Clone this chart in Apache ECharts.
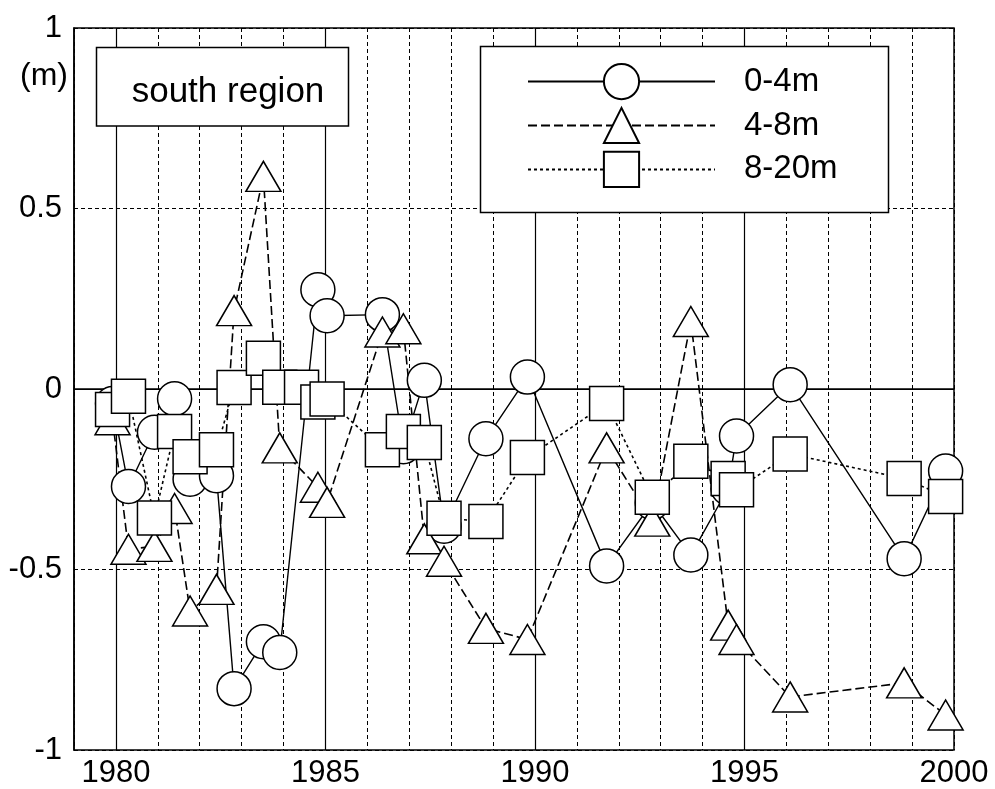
<!DOCTYPE html>
<html><head><meta charset="utf-8">
<script src="https://cdn.jsdelivr.net/npm/echarts@6/dist/echarts.min.js"></script>
<style>html,body{margin:0;padding:0;background:#fff}#c{width:995px;height:789px}</style>
</head><body><div id="c"></div>
<script>
// survey dates (decimal years) shared by all depth ranges
const dates = [1979.92,1980.30,1980.92,1981.40,1981.77,1982.40,1982.82,1983.52,1983.91,1984.82,1985.04,1986.36,1986.86,1987.36,1987.83,1988.83,1989.82,1991.71,1992.80,1993.72,1994.61,1994.81,1996.09,1998.81,1999.80];
// the 8-20m range has one extra survey (1984.43)
const dates8_20 = [1979.92,1980.30,1980.92,1981.40,1981.77,1982.40,1982.82,1983.52,1983.91,1984.43,1984.82,1985.04,1986.36,1986.86,1987.36,1987.83,1988.83,1989.82,1991.71,1992.80,1993.72,1994.61,1994.81,1996.09,1998.81,1999.80];
const depth0_4 = [-0.04,-0.27,-0.12,-0.027,-0.25,-0.24,-0.83,-0.70,-0.73,0.275,0.203,0.206,-0.16,0.024,-0.38,-0.138,0.033,-0.49,-0.315,-0.46,-0.275,-0.13,0.012,-0.47,-0.227];
const depth4_8 = [-0.085,-0.444,-0.436,-0.331,-0.615,-0.555,0.217,0.589,-0.163,-0.272,-0.314,0.158,0.167,-0.415,-0.477,-0.663,-0.694,-0.163,-0.366,0.187,-0.654,-0.694,-0.853,-0.814,-0.903];
const depth8_20 = [-0.057,-0.02,-0.357,-0.118,-0.188,-0.168,0.004,0.085,0.005,0.005,-0.036,-0.028,-0.168,-0.118,-0.148,-0.358,-0.367,-0.19,-0.04,-0.30,-0.20,-0.248,-0.279,-0.18,-0.248,-0.298];
const seriesNames = ['0-4m','4-8m','8-20m'];
const xTickLabels = [1980,1985,1990,1995,2000];
const yTickLabels = [-1,-0.5,0,0.5,1];
const regionLabel = 'south region';
const unitLabel = '(m)';

const FONT = "'Liberation Sans', Arial, Helvetica, sans-serif";
const pair = (xs, ys) => xs.map((x, i) => [x, ys[i]]);

const chart = echarts.init(document.getElementById('c'), null, {renderer: 'canvas'});
const baseSeries = (name, xs, ys, symbol, size, dash, lw) => ({
  name, type: 'line', data: pair(xs, ys), symbol, symbolSize: size,
  showAllSymbol: true, animation: false,
  lineStyle: {color: '#000', width: lw, type: dash},
  itemStyle: {color: '#fff', borderColor: '#000', borderWidth: 1.5},
  emphasis: {disabled: true}
});
const s1 = baseSeries(seriesNames[0], dates, depth0_4, 'circle', 34, 'solid', 1.4);
s1.markLine = {
  silent: true, z: 1, symbol: 'none', animation: false,
  label: {show: false},
  lineStyle: {color: '#000', type: 'solid', width: 1.2},
  emphasis: {disabled: true},
  data: xTickLabels.slice(0, 4).map(v => ({xAxis: v})).concat([{yAxis: 0}])
};
const s2 = baseSeries(seriesNames[1], dates, depth4_8, 'triangle', [35, 30], [9, 4], 1.6);
const s3 = baseSeries(seriesNames[2], dates8_20, depth8_20, 'rect', 34, [3, 3], 1.6);

chart.setOption({
  animation: false,
  backgroundColor: '#fff',
  grid: {left: 74, right: 41, top: 28, bottom: 38, show: true, borderColor: '#000', borderWidth: 1.5, backgroundColor: 'transparent'},
  xAxis: {
    type: 'value', min: 1979, max: 2000, interval: 1,
    axisLine: {show: true, lineStyle: {color: '#000', width: 1.5}},
    axisTick: {show: false},
    axisLabel: {fontSize: 31, color: '#000', fontFamily: FONT, margin: 8,
      formatter: v => xTickLabels.includes(v) ? String(v) : ''},
    splitLine: {show: true, lineStyle: {color: '#000', type: [4, 3], width: 1}}
  },
  yAxis: {
    type: 'value', min: yTickLabels[0], max: yTickLabels[yTickLabels.length - 1], interval: 0.5,
    axisLine: {show: true, lineStyle: {color: '#000', width: 1.5}},
    axisTick: {show: false},
    axisLabel: {fontSize: 31, color: '#000', fontFamily: FONT, margin: 12, padding: [0, 0, 7, 0],
      formatter: v => String(v)},
    splitLine: {show: true, lineStyle: {color: '#000', type: [4, 3], width: 1}}
  },
  legend: {
    orient: 'vertical', left: 522, top: 58, itemWidth: 187, itemHeight: 44, itemGap: 6.7,
    z: 5, selectedMode: false,
    textStyle: {fontSize: 33, color: '#000', fontFamily: FONT, padding: [0, 0, 0, 24]},
    data: seriesNames
  },
  graphic: [
    {type: 'text', left: 20, top: 60, z: 3, style: {text: unitLabel, fontSize: 32, fontFamily: FONT, fill: '#000'}},
    {type: 'rect', z: 3, shape: {x: 96.5, y: 47.5, width: 252, height: 78.5},
      style: {fill: '#fff', stroke: '#000', lineWidth: 1.5}},
    {type: 'text', z: 3, x: 228, y: 92, style: {text: regionLabel, fontSize: 35, fontFamily: FONT, fill: '#000', align: 'center', verticalAlign: 'middle'}},
    {type: 'rect', z: 3, shape: {x: 480.5, y: 46.5, width: 408, height: 166},
      style: {fill: '#fff', stroke: '#000', lineWidth: 1.5}}
  ],
  series: [s1, s2, s3]
});
</script></body></html>
